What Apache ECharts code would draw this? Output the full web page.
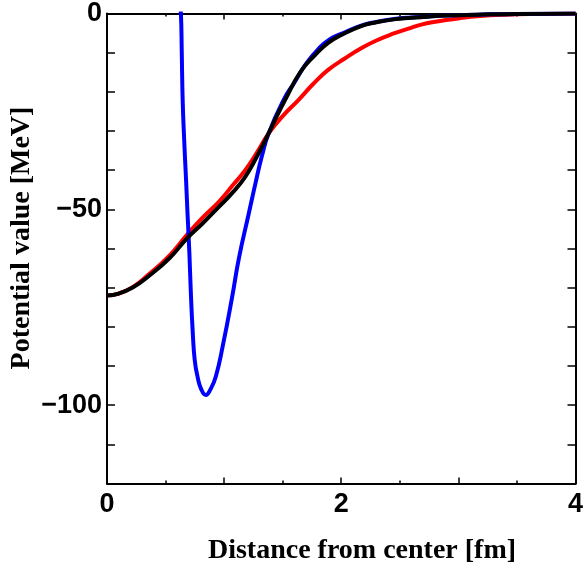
<!DOCTYPE html>
<html>
<head>
<meta charset="utf-8">
<script src="https://cdn.jsdelivr.net/npm/echarts@6/dist/echarts.min.js"></script>
<style>html,body{margin:0;padding:0;background:#fff}#c{width:586px;height:569px}</style>
</head>
<body>
<div id="c"></div>
<script>
// Black curve
var blackX = [0, 0.1, 0.223, 0.35, 0.533, 0.683, 0.82, 0.957, 1.07, 1.18, 1.28, 1.38, 1.45, 1.52, 1.65, 1.78, 1.888, 2.0, 2.17, 2.3, 2.45, 2.6, 2.73, 2.9, 3.16, 3.5, 4.0];
var blackY = [-72, -71.5, -69.9, -67.2, -62.5, -57.4, -53.5, -49.3, -45.8, -41.7, -36.5, -30.6, -26.2, -22.1, -15.0, -10.5, -7.5, -5.5, -3.2, -2.25, -1.5, -1.1, -0.8, -0.5, -0.3, -0.1, 0];
// Red curve
var redX = [0, 0.1, 0.223, 0.35, 0.533, 0.683, 0.82, 0.957, 1.07, 1.18, 1.28, 1.38, 1.5, 1.634, 1.76, 1.888, 2.03, 2.17, 2.3, 2.45, 2.6, 2.73, 2.87, 3.01, 3.16, 3.4, 3.7, 4.0];
var redY = [-72, -71.5, -69.8, -66.8, -61.8, -56.5, -52, -48.0, -44.0, -40.0, -35.5, -30.6, -26.2, -22.1, -18.0, -14.4, -11.5, -8.9, -6.9, -5.1, -3.6, -2.5, -1.8, -1.2, -0.7, -0.3, -0.1, 0];
// Blue curve
var blueX = [0.615, 0.631, 0.638, 0.646, 0.659, 0.675, 0.688, 0.703, 0.715, 0.731, 0.749, 0.773, 0.804, 0.844, 0.881, 0.929, 0.991, 1.069, 1.126, 1.211, 1.268, 1.321, 1.38, 1.507, 1.6, 1.7, 1.8, 1.9, 2.0, 2.17, 2.3, 2.45, 2.6, 2.73, 2.9, 3.16, 3.5, 4.0];
var blueY = [6, 0, -9.3, -22.1, -32.3, -42.5, -51.4, -60.9, -70.6, -80.8, -88.5, -92.7, -95.9, -97.4, -96.1, -92.7, -84.5, -72.3, -62.5, -51.0, -43.3, -36.6, -30.6, -22.1, -17.6, -12.8, -9.2, -6.6, -5.2, -3.1, -2.15, -1.4, -1.0, -0.8, -0.5, -0.3, -0.1, 0];

var xTickLabels = ['0', '2', '4'];
var yTickLabels = ['0', '\u221250', '\u2212100'];

function pairs(xs, ys) { return xs.map(function (x, i) { return [x, ys[i]]; }); }

var chart = echarts.init(document.getElementById('c'), null, {renderer: 'canvas'});
var axisLine = {show: true, onZero: false, lineStyle: {color: '#000', width: 2}};
var labelFont = {color: '#000', fontSize: 27, fontWeight: 'bold', fontFamily: 'Liberation Sans, Arial, sans-serif'};
function xAx(pos, showLabel) {
  return {
    type: 'value', min: 0, max: 4, interval: 1, position: pos,
    axisLine: axisLine,
    axisTick: {show: true, inside: true, length: 6, lineStyle: {color: '#000', width: 1.5}},
    minorTick: {show: true, splitNumber: 2, length: 3, lineStyle: {color: '#000', width: 1.5}},
    splitLine: {show: false},
    axisLabel: Object.assign({show: showLabel, margin: 8, formatter: function (v) {
      var i = xTickLabels.indexOf(String(v)); return i >= 0 ? xTickLabels[i] : '';
    }}, labelFont)
  };
}
function yAx(pos, showLabel) {
  return {
    type: 'value', min: -120, max: 0, interval: 10, position: pos,
    axisLine: axisLine,
    axisTick: {show: true, inside: true, length: 8, lineStyle: {color: '#000', width: 1.5}},
    splitLine: {show: false},
    axisLabel: Object.assign({show: showLabel, margin: 5, formatter: function (v) {
      if (v === 0) return yTickLabels[0];
      if (v === -50) return yTickLabels[1];
      if (v === -100) return yTickLabels[2];
      return '';
    }}, labelFont)
  };
}
var lineCommon = {type: 'line', showSymbol: false, symbol: 'none', smooth: 0.5, clip: true, animation: false};
chart.setOption({
  animation: false,
  backgroundColor: '#fff',
  grid: {left: 107, right: 6.5, top: 13.5, bottom: 85.5, containLabel: false},
  xAxis: [xAx('bottom', true), xAx('top', false)],
  yAxis: [yAx('left', true), yAx('right', false)],
  series: [
    Object.assign({name: 'red', data: pairs(redX, redY), lineStyle: {color: '#ff0000', width: 4}, z: 2}, lineCommon),
    Object.assign({name: 'blue', data: pairs(blueX, blueY), lineStyle: {color: '#0000ff', width: 4}, z: 3}, lineCommon),
    Object.assign({name: 'black', data: pairs(blackX, blackY), lineStyle: {color: '#000000', width: 4}, z: 4}, lineCommon)
  ],
  graphic: [
    {type: 'text', x: 362, y: 551, style: {text: 'Distance from center [fm]', fill: '#000', font: 'bold 28px "Liberation Serif", "Times New Roman", serif', textAlign: 'center', textVerticalAlign: 'middle'}},
    {type: 'text', x: 22, y: 238, rotation: Math.PI / 2, style: {text: 'Potential value [MeV]', fill: '#000', font: 'bold 28px "Liberation Serif", "Times New Roman", serif', textAlign: 'center', textVerticalAlign: 'middle'}}
  ]
});
</script>
</body>
</html>
